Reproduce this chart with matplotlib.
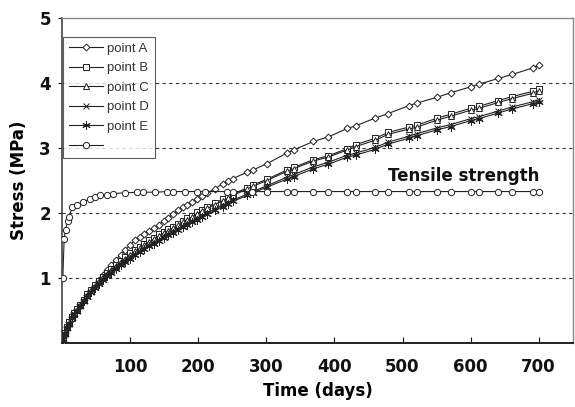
import matplotlib
matplotlib.use("Agg")
import matplotlib.pyplot as plt

# Measurement times (days) shared by points A-E
days = [0, 2, 4, 7, 10, 14, 18, 22, 27, 32, 37, 42, 48, 54, 60, 66, 72, 79, 86, 93, 100,
        107, 114, 121, 128, 135, 142, 149, 156, 163, 170, 177, 184, 191, 198, 205, 213,
        224, 236, 244, 251, 272, 280, 301, 330, 340, 369, 391, 419, 431, 460, 479, 509,
        521, 551, 571, 600, 612, 641, 661, 691, 700]

point_a = [0, 0.08, 0.15, 0.24, 0.32, 0.40, 0.46, 0.52, 0.59, 0.66, 0.74, 0.81, 0.89, 0.97,
           1.05, 1.12, 1.20, 1.28, 1.36, 1.43, 1.51,
           1.58, 1.63, 1.68, 1.73, 1.77, 1.82, 1.87, 1.93, 1.98, 2.04, 2.09, 2.13, 2.17,
           2.22, 2.26, 2.31, 2.37, 2.45, 2.49, 2.53, 2.63, 2.66, 2.76, 2.92, 2.97, 3.10,
           3.17, 3.30, 3.34, 3.46, 3.53, 3.65, 3.69, 3.78, 3.85, 3.94, 3.98, 4.07, 4.13,
           4.23, 4.27]

point_b = [0, 0.08, 0.15, 0.25, 0.32, 0.40, 0.46, 0.52, 0.59, 0.67, 0.75, 0.82, 0.89, 0.96,
           1.02, 1.08, 1.14, 1.20, 1.26, 1.32, 1.38,
           1.43, 1.48, 1.53, 1.58, 1.62, 1.67, 1.71, 1.75, 1.79, 1.83, 1.88, 1.92, 1.96,
           2.01, 2.05, 2.09, 2.15, 2.21, 2.25, 2.29, 2.39, 2.43, 2.52, 2.66, 2.70, 2.82,
           2.88, 2.99, 3.05, 3.15, 3.24, 3.32, 3.35, 3.46, 3.52, 3.61, 3.64, 3.73, 3.79,
           3.87, 3.91]

point_c = [0, 0.07, 0.15, 0.24, 0.31, 0.39, 0.45, 0.51, 0.58, 0.66, 0.74, 0.81, 0.88, 0.95,
           1.01, 1.07, 1.13, 1.19, 1.25, 1.30, 1.36,
           1.41, 1.46, 1.51, 1.56, 1.60, 1.65, 1.69, 1.73, 1.77, 1.81, 1.86, 1.90, 1.94,
           1.99, 2.03, 2.07, 2.13, 2.19, 2.23, 2.27, 2.37, 2.41, 2.50, 2.64, 2.68, 2.80,
           2.86, 2.97, 3.02, 3.12, 3.21, 3.29, 3.32, 3.43, 3.49, 3.58, 3.61, 3.70, 3.76,
           3.84, 3.88]

point_d = [0, 0.07, 0.14, 0.23, 0.30, 0.38, 0.44, 0.50, 0.57, 0.64, 0.72, 0.79, 0.86, 0.92,
           0.98, 1.04, 1.10, 1.16, 1.22, 1.27, 1.32,
           1.37, 1.42, 1.46, 1.51, 1.55, 1.59, 1.64, 1.68, 1.72, 1.76, 1.80, 1.84, 1.88,
           1.92, 1.96, 2.00, 2.06, 2.12, 2.16, 2.20, 2.29, 2.33, 2.42, 2.55, 2.59, 2.71,
           2.78, 2.89, 2.92, 3.01, 3.09, 3.18, 3.22, 3.31, 3.36, 3.45, 3.48, 3.57, 3.63,
           3.71, 3.74]

point_e = [0, 0.07, 0.14, 0.23, 0.30, 0.38, 0.44, 0.50, 0.57, 0.64, 0.71, 0.78, 0.85, 0.91,
           0.97, 1.03, 1.08, 1.14, 1.20, 1.25, 1.30,
           1.35, 1.40, 1.44, 1.49, 1.53, 1.57, 1.62, 1.66, 1.70, 1.74, 1.78, 1.82, 1.86,
           1.90, 1.94, 1.98, 2.04, 2.10, 2.14, 2.18, 2.27, 2.31, 2.40, 2.52, 2.56, 2.68,
           2.75, 2.86, 2.89, 2.98, 3.06, 3.15, 3.19, 3.28, 3.33, 3.42, 3.45, 3.54, 3.60,
           3.68, 3.71]

# Tensile strength development
tensile_days = [1, 3, 5, 8, 10, 15, 22, 31, 41, 48, 56, 66, 75, 93, 110, 119, 137, 154,
                163, 181, 198, 210, 242, 251, 279, 301, 330, 340, 369, 391, 419, 431, 460,
                479, 509, 521, 551, 571, 600, 612, 641, 661, 691, 700]
tensile = [1.00, 1.60, 1.74, 1.88, 1.94, 2.09, 2.13, 2.17, 2.22, 2.25, 2.27, 2.28, 2.30,
           2.31, 2.32, 2.32, 2.32, 2.33, 2.33, 2.33, 2.33, 2.33, 2.33, 2.33, 2.33, 2.33,
           2.33, 2.33, 2.33, 2.33, 2.33, 2.33, 2.33, 2.33, 2.33, 2.33, 2.33, 2.33, 2.33,
           2.33, 2.33, 2.33, 2.33, 2.33]

labels = ["point A", "point B", "point C", "point D", "point E", " "]
x_ticks = [100, 200, 300, 400, 500, 600, 700]
y_ticks = [1, 2, 3, 4, 5]

asterisk = (6, 2, 0)

fig = plt.figure(figsize=(5.75, 4.07), dpi=100)
ax = fig.add_axes([0.108, 0.157, 0.888, 0.799])

for y in [1, 2, 3, 4]:
    ax.axhline(y, color="#333333", lw=0.8, ls=(0, (3, 3)), zorder=1)

common = dict(color="#222222", lw=0.8, mfc="white", mec="#222222", mew=0.7, zorder=3)
ax.plot(days, point_a, marker="D", ms=3.5, label=labels[0], **common)
ax.plot(days, point_b, marker="s", ms=4.5, label=labels[1], **common)
ax.plot(days, point_c, marker="^", ms=4.5, label=labels[2], **common)
ax.plot(days, point_d, marker="x", ms=4.5, label=labels[3], **common)
ax.plot(days, point_e, marker=asterisk, ms=6, label=labels[4], **common)
ax.plot(tensile_days, tensile, marker="o", ms=4.5, label=labels[5], **common)

ax.set_xlim(0, 750)
ax.set_ylim(0, 5)
ax.set_xticks(x_ticks)
ax.set_yticks(y_ticks)

bold = dict(family="DejaVu Sans", weight="bold", size=12)
ax.set_xticklabels([str(v) for v in x_ticks], **bold)
ax.set_yticklabels([str(v) for v in y_ticks], **bold)
ax.tick_params(axis="x", direction="in", length=4, width=0.8, pad=11, colors="#111111")
ax.tick_params(axis="y", direction="out", length=3, width=0.8, pad=5, colors="#111111")

ax.set_xlabel("Time (days)", labelpad=4, **bold)
ax.set_ylabel("Stress (MPa)", labelpad=8, **bold)

ax.spines["bottom"].set_linewidth(1.4)
ax.spines["bottom"].set_color("#222222")
ax.spines["left"].set_linewidth(1.2)
ax.spines["left"].set_color("#444444")
for s in ["top", "right"]:
    ax.spines[s].set_linewidth(1.0)
    ax.spines[s].set_color("#888888")

ax.text(590, 2.57, "Tensile strength", ha="center", va="center", color="#111111",
        zorder=4, **bold)

leg = ax.legend(loc="upper left", bbox_to_anchor=(0.002, 0.942), frameon=True,
                fancybox=False, edgecolor="#333333",
                prop=dict(family="Liberation Sans", size=9.5),
                handlelength=2.6, handletextpad=0.3, labelspacing=0.55, borderpad=0.45,
                borderaxespad=0)
leg.get_frame().set_linewidth(0.8)
for t in leg.get_texts():
    t.set_color("#333333")

fig.savefig("out.png", dpi=100)
